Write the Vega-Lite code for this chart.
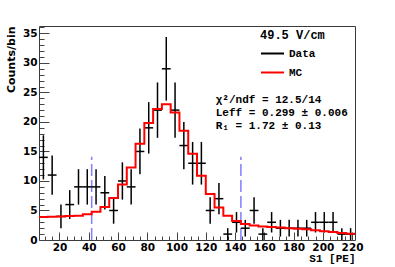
{
  "$schema": "https://vega.github.io/schema/vega-lite/v6.json",
  "width": 316,
  "height": 214,
  "autosize": {"type": "none"},
  "padding": {"left": 39, "top": 26, "right": 40, "bottom": 27},
  "background": "white",
  "config": {
    "view": {"stroke": "#3a3a3a", "strokeWidth": 1}
  },
  "resolve": {"axis": {"x": "independent", "y": "independent"}},
  "datasets": {
    "data": [
      {"s1": 9, "x0": 6, "x1": 12, "counts": 14, "lo": 10.26, "hi": 17.74, "series": "Data"},
      {"s1": 15, "x0": 12, "x1": 18, "counts": 11, "lo": 7.68, "hi": 14.32, "series": "Data"},
      {"s1": 21, "x0": 18, "x1": 24, "counts": 4, "lo": 2, "hi": 6, "series": "Data"},
      {"s1": 27, "x0": 24, "x1": 30, "counts": 6, "lo": 3.55, "hi": 8.45, "series": "Data"},
      {"s1": 33, "x0": 30, "x1": 36, "counts": 9, "lo": 6, "hi": 12, "series": "Data"},
      {"s1": 39, "x0": 36, "x1": 42, "counts": 9, "lo": 6, "hi": 12, "series": "Data"},
      {"s1": 45, "x0": 42, "x1": 48, "counts": 9, "lo": 6, "hi": 12, "series": "Data"},
      {"s1": 51, "x0": 48, "x1": 54, "counts": 8, "lo": 5.17, "hi": 10.83, "series": "Data"},
      {"s1": 57, "x0": 54, "x1": 60, "counts": 5, "lo": 2.76, "hi": 7.24, "series": "Data"},
      {"s1": 63, "x0": 60, "x1": 66, "counts": 10, "lo": 6.84, "hi": 13.16, "series": "Data"},
      {"s1": 69, "x0": 66, "x1": 72, "counts": 9, "lo": 6, "hi": 12, "series": "Data"},
      {"s1": 75, "x0": 72, "x1": 78, "counts": 15, "lo": 11.13, "hi": 18.87, "series": "Data"},
      {"s1": 81, "x0": 78, "x1": 84, "counts": 19, "lo": 14.64, "hi": 23.36, "series": "Data"},
      {"s1": 87, "x0": 84, "x1": 90, "counts": 22, "lo": 17.31, "hi": 26.69, "series": "Data"},
      {"s1": 93, "x0": 90, "x1": 96, "counts": 29, "lo": 23.61, "hi": 34.39, "series": "Data"},
      {"s1": 99, "x0": 96, "x1": 102, "counts": 22, "lo": 17.31, "hi": 26.69, "series": "Data"},
      {"s1": 105, "x0": 102, "x1": 108, "counts": 16, "lo": 12, "hi": 20, "series": "Data"},
      {"s1": 111, "x0": 108, "x1": 114, "counts": 13, "lo": 9.39, "hi": 16.61, "series": "Data"},
      {"s1": 117, "x0": 114, "x1": 120, "counts": 13, "lo": 9.39, "hi": 16.61, "series": "Data"},
      {"s1": 123, "x0": 120, "x1": 126, "counts": 5, "lo": 2.76, "hi": 7.24, "series": "Data"},
      {"s1": 129, "x0": 126, "x1": 132, "counts": 7, "lo": 4.35, "hi": 9.65, "series": "Data"},
      {"s1": 135, "x0": 132, "x1": 138, "counts": 1, "lo": 0, "hi": 2, "series": "Data"},
      {"s1": 141, "x0": 138, "x1": 144, "counts": 3, "lo": 1.27, "hi": 4.73, "series": "Data"},
      {"s1": 147, "x0": 144, "x1": 150, "counts": 2, "lo": 0.59, "hi": 3.41, "series": "Data"},
      {"s1": 153, "x0": 150, "x1": 156, "counts": 5, "lo": 2.76, "hi": 7.24, "series": "Data"},
      {"s1": 159, "x0": 156, "x1": 162, "counts": 1, "lo": 0, "hi": 2, "series": "Data"},
      {"s1": 165, "x0": 162, "x1": 168, "counts": 3, "lo": 1.27, "hi": 4.73, "series": "Data"},
      {"s1": 171, "x0": 168, "x1": 174, "counts": 2, "lo": 0.59, "hi": 3.41, "series": "Data"},
      {"s1": 177, "x0": 174, "x1": 180, "counts": 2, "lo": 0.59, "hi": 3.41, "series": "Data"},
      {"s1": 183, "x0": 180, "x1": 186, "counts": 2, "lo": 0.59, "hi": 3.41, "series": "Data"},
      {"s1": 189, "x0": 186, "x1": 192, "counts": 2, "lo": 0.59, "hi": 3.41, "series": "Data"},
      {"s1": 195, "x0": 192, "x1": 198, "counts": 3, "lo": 1.27, "hi": 4.73, "series": "Data"},
      {"s1": 201, "x0": 198, "x1": 204, "counts": 3, "lo": 1.27, "hi": 4.73, "series": "Data"},
      {"s1": 207, "x0": 204, "x1": 210, "counts": 3, "lo": 1.27, "hi": 4.73, "series": "Data"},
      {"s1": 213, "x0": 210, "x1": 216, "counts": 1, "lo": 0, "hi": 2, "series": "Data"},
      {"s1": 219, "x0": 216, "x1": 222, "counts": 1, "lo": 0, "hi": 2, "series": "Data"}
    ],
    "mc": [
      {"s1": 6, "counts": 3.9, "series": "MC"},
      {"s1": 12, "counts": 3.95, "series": "MC"},
      {"s1": 18, "counts": 4.0, "series": "MC"},
      {"s1": 24, "counts": 4.05, "series": "MC"},
      {"s1": 30, "counts": 4.1, "series": "MC"},
      {"s1": 36, "counts": 4.35, "series": "MC"},
      {"s1": 42, "counts": 4.8, "series": "MC"},
      {"s1": 48, "counts": 5.6, "series": "MC"},
      {"s1": 54, "counts": 7.1, "series": "MC"},
      {"s1": 60, "counts": 9.4, "series": "MC"},
      {"s1": 66, "counts": 12.3, "series": "MC"},
      {"s1": 72, "counts": 16.3, "series": "MC"},
      {"s1": 78, "counts": 19.8, "series": "MC"},
      {"s1": 84, "counts": 22.2, "series": "MC"},
      {"s1": 90, "counts": 23.0, "series": "MC"},
      {"s1": 96, "counts": 21.6, "series": "MC"},
      {"s1": 102, "counts": 18.5, "series": "MC"},
      {"s1": 108, "counts": 14.6, "series": "MC"},
      {"s1": 114, "counts": 10.9, "series": "MC"},
      {"s1": 120, "counts": 7.8, "series": "MC"},
      {"s1": 126, "counts": 5.5, "series": "MC"},
      {"s1": 132, "counts": 4.1, "series": "MC"},
      {"s1": 138, "counts": 3.2, "series": "MC"},
      {"s1": 144, "counts": 2.7, "series": "MC"},
      {"s1": 150, "counts": 2.45, "series": "MC"},
      {"s1": 156, "counts": 2.3, "series": "MC"},
      {"s1": 162, "counts": 2.2, "series": "MC"},
      {"s1": 168, "counts": 2.1, "series": "MC"},
      {"s1": 174, "counts": 2.0, "series": "MC"},
      {"s1": 180, "counts": 1.9, "series": "MC"},
      {"s1": 186, "counts": 1.8, "series": "MC"},
      {"s1": 192, "counts": 1.65, "series": "MC"},
      {"s1": 198, "counts": 1.5, "series": "MC"},
      {"s1": 204, "counts": 1.35, "series": "MC"},
      {"s1": 210, "counts": 1.2, "series": "MC"},
      {"s1": 216, "counts": 1.05, "series": "MC"},
      {"s1": 222, "counts": 1.05, "series": "MC"}
    ],
    "cuts": [
      {"s1": 42},
      {"s1": 144}
    ],
    "stats": [
      {"label": ["χ²/ndf = 12.5/14", "Leff = 0.299 ± 0.006", "R₁ = 1.72 ± 0.13"]}
    ]
  },
  "layer": [
    {
      "data": {"name": "cuts"},
      "mark": {"type": "rule", "color": "#7f7fff", "strokeWidth": 1.5, "strokeDash": [12, 4]},
      "encoding": {
        "x": {
          "field": "s1",
          "type": "quantitative",
          "axis": {
            "orient": "bottom",
            "title": null,
            "values": [10, 15, 20, 25, 30, 35, 40, 45, 50, 55, 60, 65, 70, 75, 80, 85, 90, 95, 100, 105, 110, 115, 120, 125, 130, 135, 140, 145, 150, 155, 160, 165, 170, 175, 180, 185, 190, 195, 200, 205, 210, 215, 220],
            "labels": false,
            "domain": false,
            "grid": false,
            "tickSize": -4,
            "tickColor": "#444",
            "tickWidth": 1
          }
        },
        "y": {
          "datum": 0,
          "axis": {
            "orient": "left",
            "title": null,
            "values": [1, 2, 3, 4, 6, 7, 8, 9, 11, 12, 13, 14, 16, 17, 18, 19, 21, 22, 23, 24, 26, 27, 28, 29, 31, 32, 33, 34, 36],
            "labels": false,
            "domain": false,
            "grid": false,
            "tickSize": -5,
            "tickColor": "#444",
            "tickWidth": 1
          }
        },
        "y2": {"datum": 14.1}
      }
    },
    {
      "data": {"name": "data"},
      "mark": {"type": "rule", "strokeWidth": 1.5},
      "encoding": {
        "x": {"field": "s1", "type": "quantitative", "axis": null},
        "y": {"field": "lo", "type": "quantitative", "axis": null},
        "y2": {"field": "hi"},
        "color": {"field": "series", "type": "nominal"}
      }
    },
    {
      "data": {"name": "data"},
      "mark": {"type": "rule", "strokeWidth": 1.5},
      "encoding": {
        "x": {"field": "x0", "type": "quantitative", "axis": null},
        "x2": {"field": "x1"},
        "y": {"field": "counts", "type": "quantitative", "axis": null},
        "color": {"field": "series", "type": "nominal"}
      }
    },
    {
      "data": {"name": "mc"},
      "mark": {"type": "line", "interpolate": "step-after", "strokeWidth": 2},
      "encoding": {
        "x": {
          "field": "s1",
          "type": "quantitative",
          "scale": {"domain": [6, 222], "nice": false, "zero": false},
          "axis": {
            "orient": "bottom",
            "title": "S1 [PE]",
            "values": [20, 40, 60, 80, 100, 120, 140, 160, 180, 200, 220],
            "tickSize": -8,
            "tickColor": "#444",
            "tickWidth": 1,
            "domain": false,
            "grid": false,
            "labelOverlap": false,
            "labelFlush": false,
            "labelFont": "DejaVu Sans",
            "labelFontWeight": "bold",
            "labelFontSize": 10.5,
            "labelColor": "#000",
            "labelPadding": 10,
            "titleFont": "Liberation Mono",
            "titleFontWeight": "bold",
            "titleFontSize": 11,
            "titleColor": "#000",
            "titleAnchor": "end",
            "titlePadding": 0
          }
        },
        "y": {
          "field": "counts",
          "type": "quantitative",
          "scale": {"domain": [0, 36.25], "nice": false},
          "axis": {
            "orient": "left",
            "title": "Counts/bin",
            "values": [0, 5, 10, 15, 20, 25, 30, 35],
            "tickSize": -10,
            "tickColor": "#444",
            "tickWidth": 1,
            "domain": false,
            "grid": false,
            "labelOverlap": false,
            "labelFlush": false,
            "labelFont": "DejaVu Sans",
            "labelFontWeight": "bold",
            "labelFontSize": 10.5,
            "labelColor": "#000",
            "labelPadding": 12,
            "titleFont": "DejaVu Sans",
            "titleFontWeight": "bold",
            "titleFontSize": 11,
            "titleColor": "#000",
            "titleAnchor": "end",
            "titlePadding": 6
          }
        },
        "color": {
          "field": "series",
          "type": "nominal",
          "scale": {"domain": ["Data", "MC"], "range": ["#000000", "#ff0000"]},
          "legend": {
            "title": "49.5 V/cm",
            "orient": "none",
            "legendX": 221,
            "legendY": 4,
            "padding": 0,
            "symbolType": "stroke",
            "symbolSize": 529,
            "symbolStrokeWidth": 2,
            "labelOffset": 4,
            "rowPadding": 1,
            "titlePadding": -1,
            "titleFont": "Liberation Mono",
            "titleFontWeight": "bold",
            "titleFontSize": 12,
            "titleColor": "#000",
            "labelFont": "Liberation Mono",
            "labelFontWeight": "bold",
            "labelFontSize": 11,
            "labelColor": "#000"
          }
        }
      }
    },
    {
      "data": {"name": "stats"},
      "mark": {"type": "text", "align": "left", "baseline": "top", "font": "Liberation Mono", "fontWeight": "bold", "fontSize": 11, "lineHeight": 13.3, "color": "#000"},
      "encoding": {
        "x": {"datum": 126.8, "axis": null},
        "y": {"datum": 24.75, "axis": null},
        "text": {"field": "label"}
      }
    }
  ]
}
